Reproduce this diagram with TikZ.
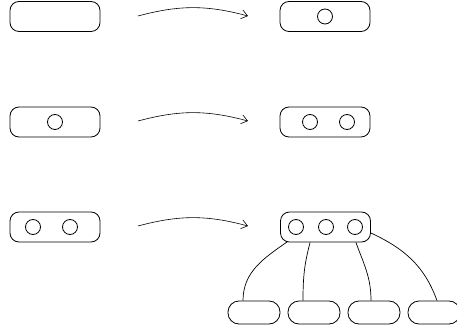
\documentclass[tikz,border=0pt]{standalone}
\usetikzlibrary{arrows.meta,calc}
\tikzset{
  slot/.style={draw, rounded corners=9pt, minimum width=90pt, minimum height=30pt, inner sep=0pt, line width=0.8pt},
  leaf/.style={draw, rounded corners=11pt, minimum width=52pt, minimum height=23pt, inner sep=0pt, line width=0.8pt},
  ball/.style={draw, circle, minimum size=15pt, inner sep=0pt, line width=0.8pt},
  steparrow/.style={-{Straight Barb[length=6pt,width=9pt]}, line width=0.6pt, bend left=15},
  link/.style={line width=0.7pt}
}
\begin{document}
\begin{tikzpicture}[x=1pt,y=-1pt]
\useasboundingbox (0,0) rectangle (457,331);
% first row: empty slot becomes a slot holding one item
\node[slot] (a1) at (55,16.5) {};
\node[slot] (b1) at (325,16.5) {};
\node[ball] (b1c1) at (325,16.5) {};
\coordinate (s1) at (138,16);
\coordinate (e1) at (248,16);
\draw[steparrow] (s1) to (e1);
% second row: one item becomes two
\node[slot] (a2) at (55,122) {};
\node[ball] (a2c1) at (55,122) {};
\node[slot] (b2) at (325,122) {};
\node[ball] (b2c1) at (310,122) {};
\node[ball] (b2c2) at (347,122) {};
\coordinate (s2) at (138,121);
\coordinate (e2) at (248,121);
\draw[steparrow] (s2) to (e2);
% third row: two items become three, with four children
\node[slot] (a3) at (55,227) {};
\node[ball] (a3c1) at (33,227) {};
\node[ball] (a3c2) at (70,227) {};
\node[slot] (b3) at (325.5,227) {};
\node[ball] (b3c1) at (296,227) {};
\node[ball] (b3c2) at (326,227) {};
\node[ball] (b3c3) at (355,227) {};
\coordinate (s3) at (138,226);
\coordinate (e3) at (248,226);
\draw[steparrow] (s3) to (e3);
% children
\node[leaf] (k1) at (254,312.5) {};
\node[leaf] (k2) at (314,312.5) {};
\node[leaf] (k3) at (374,312.5) {};
\node[leaf] (k4) at (434,312.5) {};
\draw[link] ($(b3.south west)+(7,-0.5)$) to[out=215,in=90] ($(k1.north)+(-11,0)$);
\draw[link] ($(b3.south west)+(30,0)$) to[out=255,in=90] ($(k2.north)+(-11,0)$);
\draw[link] ($(b3.south east)+(-15,0)$) to[out=-70,in=90] ($(k3.north)+(-3,0)$);
\draw[link] ($(b3.east)+(0,6)$) to[out=-25,in=110] ($(k4.north)+(3,0)$);
\end{tikzpicture}
\end{document}
